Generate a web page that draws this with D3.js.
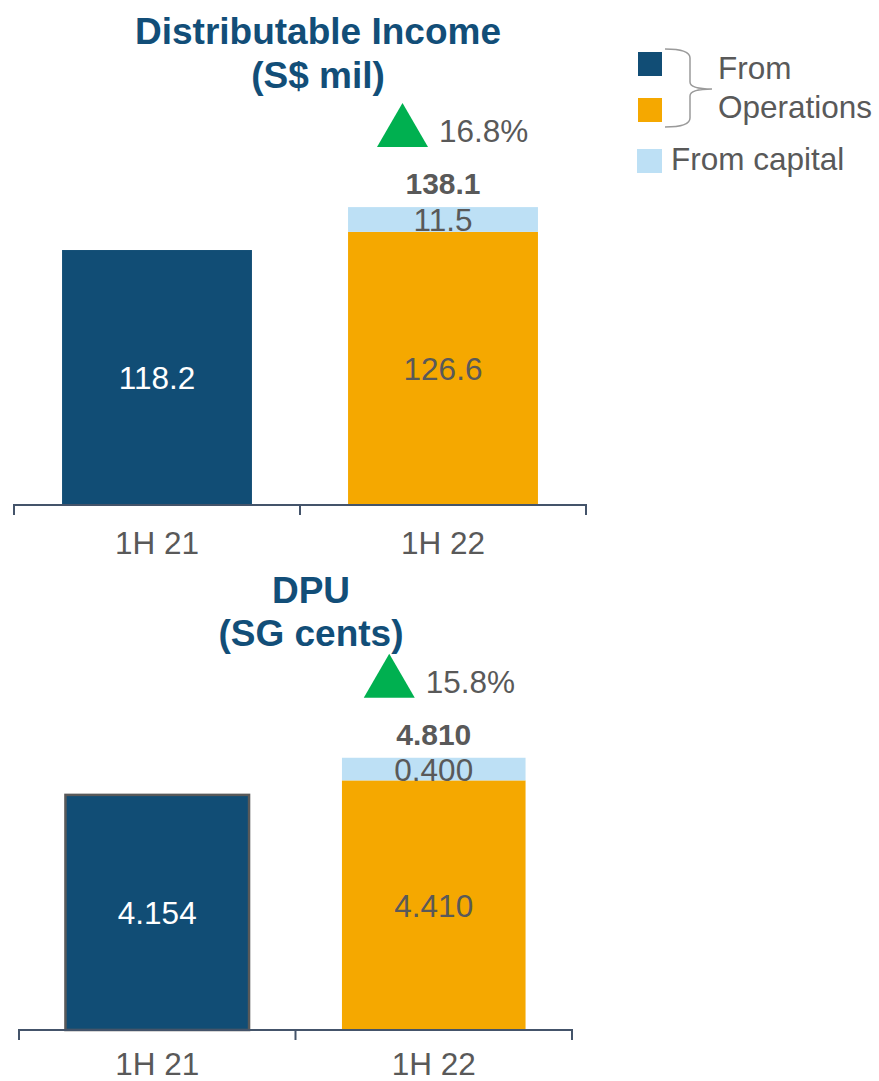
<!DOCTYPE html>
<html><head><meta charset="utf-8">
<script src="https://cdn.jsdelivr.net/npm/d3@7"></script>
<style>body{margin:0;background:#fff}svg{display:block;font-family:"Liberation Sans",Arial,sans-serif}</style>
</head><body>
<script>
const categories = ["1H 21", "1H 22"];
// Distributable income (S$ mil)
const incomeOps = [118.2, 126.6];
const incomeCapital = [0, 11.5];
const incomeTotal = [118.2, 138.1];
const incomeGrowth = "16.8%";
// DPU (SG cents)
const dpuOps = [4.154, 4.410];
const dpuCapital = [0, 0.400];
const dpuTotal = [4.154, 4.810];
const dpuGrowth = "15.8%";
const incomeLabels = ["118.2", "126.6"], incomeCapLabel = "11.5", incomeTotLabel = "138.1";
const dpuLabels = ["4.154", "4.410"], dpuCapLabel = "0.400", dpuTotLabel = "4.810";

const W = 879, H = 1081;
const C = {dark:"#114d75", orange:"#f5a800", light:"#bde0f5", green:"#00b050", grey:"#595959", title:"#124e78", axis:"#44546a"};
const svg = d3.select("body").append("svg").attr("width", W).attr("height", H);

function panel(o) {
  const g = svg.append("g");
  const x = d3.scaleBand().domain(categories).range([o.x0, o.x1]).padding(0);
  const y = d3.scaleLinear().domain([0, o.dmax]).range([o.y0, o.ytop]);
  const bw = x.bandwidth() * 0.664;
  const bx = c => x(c) + (x.bandwidth() - bw) / 2;
  const cx = c => x(c) + x.bandwidth() / 2;

  // titles
  g.append("text").attr("x", o.tx).attr("y", o.t1y).attr("text-anchor", "middle")
    .attr("font-size", 37).attr("font-weight", "bold").attr("fill", C.title).text(o.t1);
  g.append("text").attr("x", o.tx).attr("y", o.t2y).attr("text-anchor", "middle")
    .attr("font-size", 37).attr("font-weight", "bold").attr("fill", C.title).text(o.t2);

  // ops bars
  g.selectAll("rect.ops").data(categories).join("rect")
    .attr("x", bx).attr("width", bw)
    .attr("y", (c, i) => y(o.ops[i]))
    .attr("height", (c, i) => y(0) - y(o.ops[i]))
    .attr("fill", (c, i) => i === 0 ? C.dark : C.orange)
    .attr("stroke", (c, i) => (i === 0 && o.stroke) ? C.grey : "none")
    .attr("stroke-width", 2.5);
  // capital bars
  g.selectAll("rect.cap").data(categories.filter((c, i) => o.cap[i] > 0)).join("rect")
    .attr("x", bx).attr("width", bw)
    .attr("y", c => { const i = categories.indexOf(c); return y(o.ops[i] + o.cap[i]); })
    .attr("height", c => { const i = categories.indexOf(c); return y(o.ops[i]) - y(o.ops[i] + o.cap[i]); })
    .attr("fill", C.light);

  // value labels
  categories.forEach((c, i) => {
    g.append("text").attr("x", cx(c)).attr("y", (y(0) + y(o.ops[i])) / 2 + 11.5)
      .attr("text-anchor", "middle").attr("font-size", 31.5)
      .attr("fill", i === 0 ? "#fff" : C.grey).text(o.labels[i]);
  });
  const c2 = categories[1];
  g.append("text").attr("x", cx(c2)).attr("y", (y(o.ops[1]) + y(o.total[1])) / 2 + 11.5)
    .attr("text-anchor", "middle").attr("font-size", 31.5).attr("fill", C.grey).text(o.capLabel);
  g.append("text").attr("x", cx(c2)).attr("y", y(o.total[1]) - 13)
    .attr("text-anchor", "middle").attr("font-size", 30).attr("font-weight", "bold")
    .attr("fill", C.grey).text(o.totLabel);

  // growth arrow
  const tb = y(o.total[1]) - 60, tl = cx(c2) + o.triOff;
  g.append("path").attr("d", `M${tl},${tb} L${tl + 51},${tb} L${tl + 25.5},${tb - 44} Z`).attr("fill", C.green);
  g.append("text").attr("x", tl + 62).attr("y", tb - 5).attr("font-size", 31.5)
    .attr("fill", C.grey).text(o.growth);

  // axis
  const ax = g.append("g").attr("transform", `translate(0,${o.y0})`)
    .call(d3.axisBottom(x).tickSize(0).tickSizeOuter(0).tickFormat(d => d));
  ax.select(".domain").remove();
  ax.selectAll("text").attr("font-size", 31.5).attr("fill", C.grey)
    .attr("font-family", "Liberation Sans, Arial, sans-serif").attr("dy", 0).attr("y", o.labY);
  const edges = [o.x0, x(c2), o.x1];
  g.append("line").attr("x1", o.x0).attr("x2", o.x1).attr("y1", o.y0).attr("y2", o.y0)
    .attr("stroke", C.axis).attr("stroke-width", 2);
  edges.forEach(e => g.append("line").attr("x1", e).attr("x2", e).attr("y1", o.y0 - 1).attr("y2", o.y0 + 10)
    .attr("stroke", C.axis).attr("stroke-width", 2));
}

panel({x0: 14, x1: 586, y0: 505, ytop: 203, dmax: 140, ops: incomeOps, cap: incomeCapital, total: incomeTotal,
  labels: incomeLabels, capLabel: incomeCapLabel, totLabel: incomeTotLabel, growth: incomeGrowth,
  t1: "Distributable Income", t2: "(S$ mil)", tx: 318, t1y: 44, t2y: 88, labY: 49, triOff: -66, stroke: false});
panel({x0: 19, x1: 572, y0: 1030, ytop: 747, dmax: 5, ops: dpuOps, cap: dpuCapital, total: dpuTotal,
  labels: dpuLabels, capLabel: dpuCapLabel, totLabel: dpuTotLabel, growth: dpuGrowth,
  t1: "DPU", t2: "(SG cents)", tx: 311, t1y: 603, t2y: 646, labY: 45, triOff: -70, stroke: true});

// legend
const legendItems = [
  {color: C.dark, y: 52}, {color: C.orange, y: 98}
];
const lg = svg.append("g");
lg.selectAll("rect").data(legendItems).join("rect")
  .attr("x", 638).attr("y", d => d.y).attr("width", 24).attr("height", 24).attr("fill", d => d.color);
lg.append("rect").attr("x", 637).attr("y", 149).attr("width", 25).attr("height", 24).attr("fill", C.light);
lg.append("path").attr("d", "M665,49 Q690,49 690,58 L690,82 Q690,89 712,89 Q690,89 690,96 L690,118 Q690,127 665,127")
  .attr("fill", "none").attr("stroke", "#9a9a9a").attr("stroke-width", 1.5);
lg.append("text").attr("x", 718).attr("y", 79).attr("font-size", 31.5).attr("fill", C.grey).text("From");
lg.append("text").attr("x", 718).attr("y", 118).attr("font-size", 31.5).attr("fill", C.grey).text("Operations");
lg.append("text").attr("x", 671).attr("y", 170).attr("font-size", 31.5).attr("fill", C.grey).text("From capital");
</script>
</body></html>
